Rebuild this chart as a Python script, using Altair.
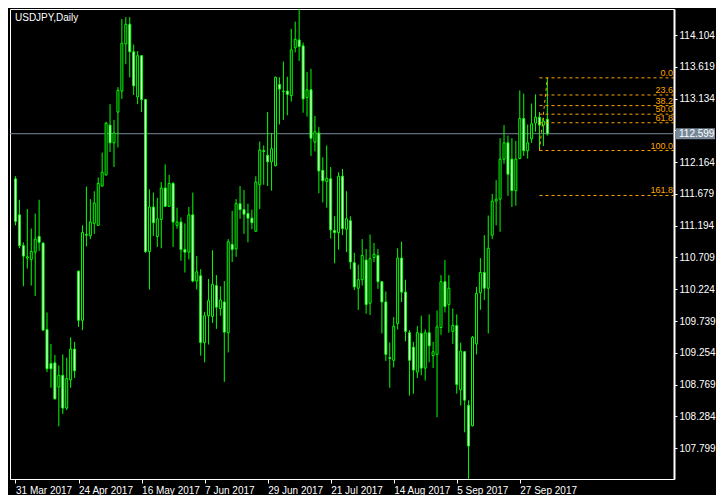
import altair as alt
import pandas as pd

# ---- data (USDJPY daily, 31 Mar 2017 .. early Oct 2017) ----
opens = [111.91, 111.36, 110.89, 110.70, 110.68, 110.79, 111.03, 110.93, 109.61, 109.09,
         109.10, 108.73, 108.91, 108.41, 108.84, 109.31, 110.50, 109.75, 111.06, 111.04,
         111.23, 111.20, 111.80, 111.97, 112.73, 112.46, 112.93, 113.25, 113.97, 114.27,
         113.85, 113.16, 113.79, 113.12, 110.80, 111.48, 111.03, 111.29, 111.77, 111.49,
         111.84, 111.20, 111.25, 110.83, 110.79, 111.36, 110.35, 110.43, 109.41, 109.82,
         109.81, 110.28, 109.93, 110.03, 109.56, 110.91, 110.84, 111.53, 111.44, 111.38,
         111.31, 111.11, 111.82, 112.34, 112.27, 112.17, 112.11, 113.35, 113.24, 113.25,
         113.18, 113.91, 114.03, 113.94, 113.15, 113.27, 112.47, 112.61, 112.04, 111.87,
         111.91, 111.12, 111.09, 111.95, 111.14, 111.27, 110.63, 110.24, 110.37, 110.67,
         110.01, 110.71, 110.74, 110.34, 110.03, 109.18, 109.14, 109.70, 110.70, 110.18,
         109.56, 109.34, 108.96, 109.55, 109.02, 109.56, 109.21, 109.23, 109.64, 110.34,
         109.99, 109.58, 109.67, 108.69, 109.27, 108.45, 108.14, 109.39, 110.17, 110.48,
         110.24, 111.05, 111.57, 111.60, 112.21, 112.46, 112.21, 111.73, 112.22, 112.83,
         112.34, 112.52, 112.76, 112.85, 112.73, 112.82]
highs = [111.95, 111.59, 110.94, 111.45, 111.15, 111.38, 111.59, 110.94, 109.87, 109.39,
         109.22, 109.06, 109.23, 109.18, 109.49, 109.42, 110.51, 111.20, 111.79, 111.60,
         111.72, 111.93, 112.31, 112.78, 113.05, 112.81, 113.31, 114.35, 114.38, 114.38,
         113.96, 113.86, 113.80, 113.13, 111.75, 111.70, 111.62, 111.86, 112.13, 111.97,
         111.86, 111.47, 111.32, 111.23, 111.48, 111.70, 110.73, 110.53, 109.88, 110.38,
         110.82, 110.44, 110.27, 110.35, 110.99, 111.42, 111.60, 111.80, 111.74, 111.53,
         111.44, 111.95, 112.48, 112.42, 112.93, 112.61, 113.47, 113.46, 113.70, 113.47,
         114.20, 114.31, 114.50, 113.99, 113.54, 113.59, 112.87, 112.70, 112.24, 112.42,
         112.09, 111.34, 112.01, 112.06, 111.72, 111.34, 110.78, 110.60, 110.99, 110.84,
         111.06, 110.93, 110.84, 110.35, 110.19, 109.41, 109.80, 110.85, 110.95, 110.37,
         109.60, 109.42, 109.66, 109.82, 109.61, 109.84, 109.42, 109.90, 110.44, 110.67,
         110.44, 109.93, 109.84, 109.41, 109.28, 108.53, 109.51, 110.26, 110.70, 111.05,
         111.35, 111.68, 111.89, 112.53, 112.73, 112.57, 112.53, 112.49, 113.26, 113.21,
         112.74, 113.06, 113.20, 112.93, 112.84, 113.452]
lows = [111.20, 110.85, 110.27, 110.54, 110.28, 110.12, 110.81, 109.59, 108.96, 108.72,
        108.54, 108.13, 108.32, 108.38, 108.72, 108.87, 109.65, 109.60, 110.88, 110.99,
        111.07, 111.19, 111.79, 111.96, 112.32, 112.09, 112.39, 113.13, 113.66, 113.46,
        113.19, 113.05, 112.93, 110.78, 110.22, 111.04, 110.87, 110.85, 111.48, 111.48,
        110.87, 111.15, 110.66, 110.48, 110.68, 110.33, 110.22, 109.21, 109.11, 109.38,
        109.71, 109.62, 109.82, 108.81, 109.26, 110.64, 110.72, 111.30, 111.07, 110.94,
        111.14, 111.10, 111.45, 111.82, 111.80, 111.73, 112.10, 112.74, 112.81, 112.88,
        113.09, 113.84, 113.71, 112.92, 112.86, 112.26, 112.33, 111.69, 111.55, 111.47,
        111.00, 110.62, 110.83, 111.05, 110.79, 110.53, 110.21, 109.91, 110.28, 109.85,
        109.83, 110.64, 110.23, 109.55, 109.13, 108.72, 109.03, 109.61, 110.03, 109.43,
        108.60, 108.63, 108.87, 108.91, 108.83, 109.11, 109.02, 108.27, 109.53, 109.87,
        109.56, 109.39, 108.63, 108.45, 108.04, 107.33, 108.13, 109.23, 109.91, 110.06,
        109.55, 110.99, 111.20, 111.10, 112.14, 111.65, 111.48, 111.50, 112.21, 112.26,
        112.22, 112.46, 112.63, 112.342, 112.41, 112.57]
closes = [111.26, 110.89, 110.73, 110.72, 110.80, 110.99, 110.94, 109.60, 109.01, 109.01,
          108.55, 108.91, 108.41, 108.86, 109.31, 108.98, 109.75, 111.09, 111.05, 111.25,
          111.54, 111.84, 112.01, 112.76, 112.46, 112.61, 113.26, 113.98, 114.27, 113.85,
          113.33, 113.79, 113.12, 110.80, 111.48, 111.24, 111.30, 111.77, 111.49, 111.84,
          111.25, 111.25, 110.83, 110.79, 111.36, 110.35, 110.49, 109.41, 109.82, 110.05,
          110.30, 109.95, 110.06, 109.57, 110.95, 110.83, 111.53, 111.44, 111.37, 111.31,
          111.24, 111.86, 112.35, 112.33, 112.17, 112.37, 113.46, 113.28, 113.25, 113.20,
          113.88, 114.04, 113.93, 113.13, 113.27, 112.53, 112.63, 112.03, 111.88, 111.92,
          111.13, 111.09, 111.95, 111.15, 111.30, 110.64, 110.26, 110.37, 110.74, 109.99,
          110.69, 110.76, 110.34, 110.03, 109.23, 109.17, 109.66, 110.70, 110.18, 109.58,
          109.14, 108.99, 109.56, 109.02, 109.56, 109.36, 109.27, 109.65, 110.34, 109.96,
          110.24, 109.67, 108.77, 109.28, 108.53, 107.83, 109.49, 110.16, 110.48, 110.24,
          110.85, 111.57, 111.60, 112.21, 112.46, 111.98, 111.73, 112.21, 112.83, 112.34,
          112.46, 112.75, 112.85, 112.73, 112.79, 112.599]

date_tick_bars = [0, 16, 32, 48, 64, 80, 96, 112, 128]
date_labels = ["31 Mar 2017", "24 Apr 2017", "16 May 2017", "7 Jun 2017", "29 Jun 2017",
               "21 Jul 2017", "14 Aug 2017", "5 Sep 2017", "27 Sep 2017"]
price_ticks = [107.799, 108.284, 108.769, 109.254, 109.739, 110.224, 110.709,
               111.194, 111.679, 112.164, 112.649, 113.134, 113.619, 114.104]
hidden_tick = 112.649          # its label sits under the bid-price box
bid_price = [112.599]
symbol_title = ["USDJPY,Daily"]

fib_levels = [0.0, 23.6, 38.2, 50.0, 61.8, 100.0, 161.8]
fib_high = 113.452
fib_low = 112.342
fib_low_bar = 133
fib_high_bar = 135

# ---- layout / style ----
W, H = 664, 470
BAR_PX = 4
X_DOMAIN = [-0.125, -0.125 + W / BAR_PX]     # 4 px per bar, bar centres on half pixels
Y_DOMAIN = [107.327, 114.503]
FONT = "Liberation Sans"
GREEN = "#00FF00"
ORANGE = "#FFA500"
BIDCOL = "#778899"

df = pd.DataFrame({"i": list(range(len(opens))), "o": opens, "h": highs, "l": lows, "c": closes})
df["dir"] = ["up" if c >= o else "down" for o, c in zip(opens, closes)]

fib = pd.DataFrame({
    "level": fib_levels,
    "price": [fib_high - lv / 100.0 * (fib_high - fib_low) for lv in fib_levels],
    "label": [f"{lv:.1f}" for lv in fib_levels],
    "start": [fib_low_bar] * len(fib_levels),
})
trend = pd.DataFrame({"x1": [fib_low_bar], "x2": [fib_high_bar], "y1": [fib_low], "y2": [fib_high]})
bid = pd.DataFrame({"p": bid_price, "t": [f"{p:.3f}" for p in bid_price]})
ttl = pd.DataFrame({"t": symbol_title})

xs = alt.Scale(domain=X_DOMAIN, nice=False, zero=False)
ys = alt.Scale(domain=Y_DOMAIN, nice=False, zero=False)

label_arr = "[" + ",".join(f"'{s}'" for s in date_labels) + "]"
x_axis = alt.Axis(values=date_tick_bars, labelExpr=f"{label_arr}[round(datum.value/16)]",
                  title=None, orient="bottom", labelAlign="left", labelBaseline="top",
                  tickSize=4, labelPadding=2, labelFlush=False, labelOverlap=False,
                  domainColor="#FFFFFF", tickColor="#FFFFFF", labelColor="#FFFFFF")
y_axis = alt.Axis(values=price_ticks,
                  labelExpr=f"abs(datum.value - {hidden_tick}) < 0.0005 ? '' : format(datum.value, '.3f')",
                  title=None, orient="right",
                  tickSize=3, labelPadding=2, domainWidth=2, labelOverlap=False,
                  labelFlush=False,
                  domainColor="#FFFFFF", tickColor="#FFFFFF", labelColor="#FFFFFF")

def X(field):
    return alt.X(field, scale=xs, axis=x_axis)

def Y(field):
    return alt.Y(field, scale=ys, axis=y_axis)

bid_line = alt.Chart(bid).mark_rule(color=BIDCOL, strokeWidth=1).encode(y=Y("p:Q"))

wicks = alt.Chart(df).mark_rule(color=GREEN, strokeWidth=1, clip=True).encode(
    x=X("i:Q"), y=Y("l:Q"), y2="h:Q")

bodies = alt.Chart(df).mark_bar(size=2, stroke=GREEN, strokeWidth=1, orient="vertical",
                                clip=True).encode(
    x=X("i:Q"), y=Y("o:Q"), y2="c:Q",
    fill=alt.Fill("dir:N", scale=alt.Scale(domain=["up", "down"], range=["#000000", "#FFFFFF"]),
                  legend=None))

fib_lines = alt.Chart(fib).mark_rule(color=ORANGE, strokeWidth=1, strokeDash=[3, 3]).encode(
    x=X("start:Q"), x2=alt.value(W), y=Y("price:Q"))

trend_line = alt.Chart(trend).mark_rule(color=ORANGE, strokeWidth=1, strokeDash=[3, 3]).encode(
    x=X("x1:Q"), x2="x2:Q", y=Y("y1:Q"), y2="y2:Q")

fib_text = alt.Chart(fib).mark_text(align="right", baseline="alphabetic", dy=-2, color=ORANGE,
                                    font=FONT, fontSize=9).encode(
    x=alt.value(W - 1), y=Y("price:Q"), text="label:N")

bid_box = alt.Chart(bid).mark_tick(orient="horizontal", thickness=11, size=39, color=BIDCOL,
                                   opacity=1).encode(
    x=alt.value(W + 21.5), y=Y("p:Q"))

bid_text = alt.Chart(bid).mark_text(align="left", baseline="middle", color="#FFFFFF",
                                    font=FONT, fontSize=10).encode(
    x=alt.value(W + 5), y=Y("p:Q"), text="t:N")

title = alt.Chart(ttl).mark_text(align="left", baseline="alphabetic", color="#FFFFFF",
                                 font=FONT, fontSize=10).encode(
    x=alt.value(5), y=alt.value(12), text="t:N")

chart = alt.layer(bid_line, wicks, bodies, fib_lines, trend_line, fib_text,
                  bid_box, bid_text, title).properties(
    width=W, height=H, background="#000000",
    padding={"left": 1, "top": 1, "right": 0, "bottom": 0},
).configure_view(stroke="#FFFFFF", strokeWidth=1).configure_axis(
    grid=False, labelFont=FONT, labelFontSize=10,
)

chart.save("out.html", embed_options={"renderer": "svg", "actions": False})
